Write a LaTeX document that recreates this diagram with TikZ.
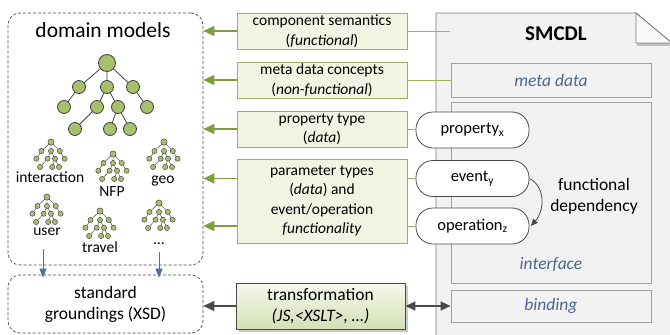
\documentclass[tikz,border=0pt]{standalone}
\usepackage{fontspec}
\setmainfont{Carlito}
\usetikzlibrary{arrows.meta,shadows,calc,backgrounds}

\definecolor{grnline}{HTML}{97B45A}
\definecolor{grnfill}{HTML}{EFF4E3}
\definecolor{grnarrow}{HTML}{7E9D3E}
\definecolor{treefill}{HTML}{A7C06C}
\definecolor{treeline}{HTML}{404040}
\definecolor{darkline}{HTML}{4A4A4A}
\definecolor{docfill}{HTML}{F2F2F2}
\definecolor{docline}{HTML}{7A7A7A}
\definecolor{boxline}{HTML}{A0A0A0}
\definecolor{slate}{HTML}{4C6890}
\definecolor{steel}{HTML}{4F6F98}
\definecolor{transtop}{HTML}{F6F8EC}
\definecolor{transbot}{HTML}{D3E0B6}

\newcommand{\fsbox}{\fontsize{15.5}{19.5}\selectfont}
\newcommand{\fsmid}{\fontsize{17.5}{21}\selectfont}

\tikzset{
  dashbox/.style={draw=darkline, dash pattern=on 3pt off 2pt, line width=0.7pt,
    rounded corners=12pt, minimum width=195pt, inner sep=0pt},
  greenbox/.style={draw=grnline, fill=grnfill, line width=0.9pt, minimum width=170pt,
    inner sep=0pt, align=center, font=\fsbox},
  transbox/.style={draw=darkline, line width=0.8pt, top color=transtop, bottom color=transbot,
    minimum width=169pt, minimum height=46pt, inner sep=0pt, align=center, font=\fsmid,
    drop shadow={shadow xshift=2.5pt, shadow yshift=-2.5pt, fill=black!35, opacity=0.6}},
  innerbox/.style={draw=boxline, fill=docfill, line width=0.7pt, minimum width=200pt,
    inner sep=0pt, font=\fsmid\itshape, text=slate,
    drop shadow={shadow xshift=1.2pt, shadow yshift=-1.2pt, fill=black!20, opacity=0.6}},
  pill/.style={draw=darkline, fill=white, line width=0.8pt, rounded corners=17pt,
    minimum width=113pt, minimum height=36pt, inner sep=0pt, font=\fontsize{16.5}{20}\selectfont},
  grnarr/.style={draw=grnarrow, line width=1.6pt, -{Triangle[length=11pt,width=10pt]}},
  grnlink/.style={draw=grnline, line width=0.8pt},
  darkarr/.style={draw=darkline, line width=1.3pt},
  bluearr/.style={draw=steel, line width=1pt, -{Triangle[length=9pt,width=7pt]}},
  bignode/.style={circle, draw=treeline, fill=treefill, line width=0.8pt, minimum size=13pt, inner sep=0pt},
  minode/.style={circle, draw=treeline, fill=treefill, line width=0.45pt, minimum size=5.2pt, inner sep=0pt},
  treeedge/.style={draw=treeline, line width=0.8pt},
  minitree/.pic={
    \draw[treeline, line width=0.45pt] (0,0) -- (-9.5,9) (0,0) -- (0,9) (0,0) -- (8.8,9)
      (-9.5,9) -- (-14.6,16.7) (0,9) -- (-3.4,16.7) (0,9) -- (4,16.7) (8.8,9) -- (13.6,16.7)
      (-3.4,16.7) -- (-10.9,25) (4,16.7) -- (1.2,25) (4,16.7) -- (8,25);
    \node[minode, minimum size=6.2pt] (-r) at (0,0) {};
    \node[minode] (-a) at (-9.5,9) {};
    \node[minode] (-b) at (0,9) {};
    \node[minode] (-c) at (8.8,9) {};
    \node[minode] (-d) at (-14.6,16.7) {};
    \node[minode] (-e) at (-3.4,16.7) {};
    \node[minode] (-f) at (4,16.7) {};
    \node[minode] (-g) at (13.6,16.7) {};
    \node[minode] (-h) at (-10.9,25) {};
    \node[minode] (-i) at (1.2,25) {};
    \node[minode] (-j) at (8,25) {};
  }
}

\begin{document}
\begin{tikzpicture}[x=1pt, y=-1pt]
\useasboundingbox (0,0) rectangle (670,335);

% ---------- SMCDL document ----------
\path[fill=docfill] (436,340) -- (436,13) -- (636,13) -- (672,45) -- (672,340) -- cycle;
\draw[docline, line width=0.9pt] (436,340) -- (436,13) -- (636,13) -- (672,45);
\fill[black!25] (637,43) -- (672,43) -- (672,45.5) -- (637,45.5) -- cycle;
\draw[docline, line width=0.9pt, fill=white!60!docfill] (636,13) -- (636,43) -- (672,43) -- cycle;
\node[font=\bfseries\fontsize{21}{25}\selectfont] (smcdl) at (556,34) {SMCDL};

\node[innerbox, minimum height=34pt] (meta) at (551,80) {meta data};
\node[innerbox, minimum height=181pt] (iface) at (551,192.5) {};
\node[innerbox, minimum height=32pt] (bind) at (551,306) {binding};
\node[font=\fsmid\itshape, text=slate] (ifacelbl) at (551,265) {interface};

% ---------- domain models ----------
\node[dashbox, minimum height=252pt] (dom) at (105.5,139) {};
\node[font=\fontsize{21.5}{25}\selectfont] (domlbl) at (103,30) {domain models};

\draw[treeedge] (107,63) -- (79,87) (107,63) -- (107,87) (107,63) -- (133,87)
  (79,87) -- (64,107) (107,87) -- (97,107) (107,87) -- (118,107) (133,87) -- (147,107)
  (97,107) -- (75,129) (118,107) -- (110,129) (118,107) -- (130,129);
\node[bignode, minimum size=17pt] (t0) at (107,63) {};
\node[bignode] (t1) at (79,87) {};
\node[bignode] (t2) at (107,87) {};
\node[bignode] (t3) at (133,87) {};
\node[bignode] (t4) at (64,107) {};
\node[bignode] (t5) at (97,107) {};
\node[bignode] (t6) at (118,107) {};
\node[bignode] (t7) at (147,107) {};
\node[bignode] (t8) at (75,129) {};
\node[bignode] (t9) at (110,129) {};
\node[bignode] (t10) at (130,129) {};

\pic (mInter) at (51,142) {minitree};
\pic (mNFP) at (113,154) {minitree};
\pic (mGeo) at (164,142) {minitree};
\pic (mUser) at (47,197) {minitree};
\pic (mTravel) at (100,211) {minitree};
\pic (mMore) at (159,203) {minitree};

\node[font=\fsbox] (lInter) at (50,177) {interaction};
\node[font=\fsbox] (lNFP) at (112,192) {NFP};
\node[font=\fsbox] (lGeo) at (163,181) {geo};
\node[font=\fsbox] (lUser) at (47,232) {user};
\node[font=\fsbox] (lTravel) at (100,247) {travel};
\node[font=\fsbox] (lMore) at (159,244) {\ldots};

% ---------- standard groundings ----------
\node[dashbox, minimum height=58pt, align=center, font=\fsmid] (grd) at (105.5,304)
  {standard\\groundings (XSD)};

\coordinate (down1) at (43,249);
\coordinate (down2) at (159,252);
\draw[bluearr] (down1) -- ($(down1 |- grd.north)+(0,3)$);
\draw[bluearr] (down2) -- ($(down2 |- grd.north)+(0,3)$);

% ---------- concept boxes ----------
\node[greenbox, minimum height=36pt] (b1) at (322,31) {component semantics\\(\textit{functional})};
\node[greenbox, minimum height=36pt] (b2) at (322,80) {meta data concepts\\(\textit{non-functional})};
\node[greenbox, minimum height=36pt] (b3) at (322,129) {property type\\(\textit{data})};
\node[greenbox, minimum height=84pt] (b4) at (322,201) {parameter types\\(\textit{data}) and\\event/operation\\\textit{functionality}};

% ---------- interface elements ----------
\node[pill] (prop) at (472.5,130) {property\textsubscript{x}};
\node[pill] (ev) at (472.5,178.5) {event\textsubscript{y}};
\node[pill] (op) at (472.5,226) {operation\textsubscript{z}};

\draw[draw=darkline, line width=0.8pt, -{Triangle[length=7pt,width=6pt]}]
  (ev.east) .. controls +(16,8) and +(14,-16) .. ([xshift=1.5pt]op.east);
\node[align=center, font=\fsmid] (fdep) at (594,196) {functional\\dependency};

% ---------- connectors ----------
\draw[grnarr] (b1.west) -- (b1.west -| dom.east);
\draw[grnarr] (b2.west) -- (b2.west -| dom.east);
\draw[grnarr] (b3.west) -- (b3.west -| dom.east);
\draw[grnarr] (ev.west -| b4.west) -- (ev.west -| dom.east);
\draw[grnarr] (op.west -| b4.west) -- (op.west -| dom.east);

\coordinate (semin) at (450,31);
\draw[grnlink] (b1.east) -- (semin);
\draw[grnlink] (b2.east) -- (meta.west);
\draw[grnlink] (b3.east) -- (b3.east -| prop.west);
\draw[grnlink] (ev.west -| b4.east) -- (ev.west);
\draw[grnlink] (op.west -| b4.east) -- (op.west);

% ---------- transformation ----------
\node[transbox] (trans) at (320.5,306) {transformation\\\textit{(JS,<XSLT>, \ldots)}};
\draw[darkarr, -{Triangle[length=11pt,width=10pt]}] (trans.west) -- (trans.west -| grd.east);
\draw[darkarr, {Triangle[length=10pt,width=9pt]}-{Triangle[length=10pt,width=9pt]}] (trans.east) -- (trans.east -| bind.west);

\end{tikzpicture}
\end{document}
